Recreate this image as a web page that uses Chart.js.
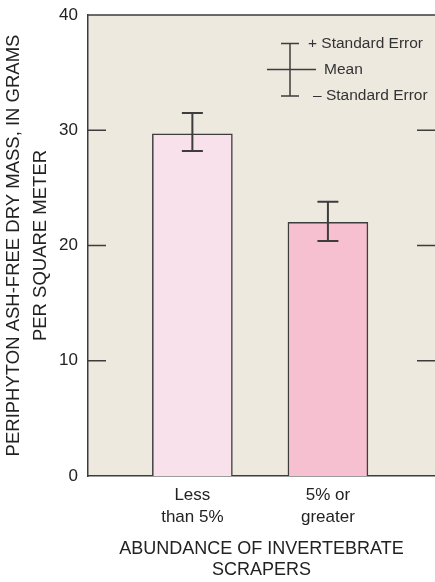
<!DOCTYPE html>
<html>
<head>
<meta charset="utf-8">
<script src="https://cdn.jsdelivr.net/npm/chart.js@4.4.0/dist/chart.umd.min.js"></script>
<style>
  html, body { margin: 0; padding: 0; background: #fff; }
  #wrap { width: 435px; height: 582px; }
</style>
</head>
<body>
<div id="wrap"><canvas id="scraperChart"></canvas></div>
<script>
// values (grams per square meter)
var categories = [["Less", "than 5%"], ["5% or", "greater"]];
var positions = [1, 2];
var meanMass = [29.7, 22.0];
var upperError = [31.5, 23.8];
var lowerError = [28.2, 20.4];
var innerTicks = [10, 20, 30];

var FONT = "'Liberation Sans', Arial, sans-serif";
var INK = "#3d3d3d";

var framePlugin = {
  id: "frame",
  beforeDraw: function (chart) {
    var c = chart.ctx, a = chart.chartArea;
    c.save();
    c.fillStyle = "#fff";
    c.fillRect(0, 0, chart.width, chart.height);
    c.fillStyle = "#eee9df";
    c.fillRect(a.left, a.top, a.right - a.left, a.bottom - a.top);
    c.restore();
  },
  afterDatasetsDraw: function (chart) {
    var c = chart.ctx, a = chart.chartArea;
    var xs = chart.scales.x, ys = chart.scales.y;
    c.save();
    c.strokeStyle = INK;
    c.lineWidth = 1.5;
    c.beginPath();
    c.moveTo(a.left, a.top);
    c.lineTo(a.right, a.top);
    // inside ticks on both sides
    innerTicks.forEach(function (v) {
      var y = ys.getPixelForValue(v);
      c.moveTo(a.left, y); c.lineTo(a.left + 18, y);
      c.moveTo(a.right - 18, y); c.lineTo(a.right, y);
    });
    c.stroke();

    // standard error bars
    c.lineWidth = 2;
    positions.forEach(function (p, i) {
      var x = xs.getPixelForValue(p);
      var yt = ys.getPixelForValue(upperError[i]);
      var yb = ys.getPixelForValue(lowerError[i]);
      c.beginPath();
      c.moveTo(x, yt); c.lineTo(x, yb);
      c.moveTo(x - 10.5, yt); c.lineTo(x + 10.5, yt);
      c.moveTo(x - 10.5, yb); c.lineTo(x + 10.5, yb);
      c.stroke();
    });

    // key
    c.lineWidth = 1.5;
    c.beginPath();
    c.moveTo(290, 43.5); c.lineTo(290, 96);
    c.moveTo(281, 43.5); c.lineTo(299, 43.5);
    c.moveTo(281, 96); c.lineTo(299, 96);
    c.moveTo(267, 69.5); c.lineTo(316, 69.5);
    c.stroke();
    c.fillStyle = "#333";
    c.font = "15.5px " + FONT;
    c.textBaseline = "middle";
    c.textAlign = "left";
    c.fillText("+ Standard Error", 308, 43.5);
    c.fillText("Mean", 324, 69.5);
    c.fillText("\u2013 Standard Error", 313, 96);
    c.restore();
  }
};

var chart = new Chart(document.getElementById("scraperChart"), {
  type: "bar",
  data: {
    datasets: [{
      data: positions.map(function (p, i) { return { x: p, y: meanMass[i] }; }),
      backgroundColor: ["#f9e1eb", "#f7c0d1"],
      borderColor: INK,
      borderWidth: 1.5,
      barThickness: 80
    }]
  },
  options: {
    responsive: true,
    maintainAspectRatio: false,
    animation: false,
    layout: { padding: { top: 15, right: 0, left: 0, bottom: 0 } },
    plugins: { legend: { display: false }, tooltip: { enabled: false } },
    scales: {
      x: {
        type: "linear",
        offset: false,
        min: 0.23,
        max: 2.79,
        grid: { display: false },
        border: { display: true, color: INK, width: 1.5 },
        afterBuildTicks: function (s) {
          s.ticks = positions.map(function (p) { return { value: p }; });
        },
        afterFit: function (s) { s.height = 106; },
        ticks: {
          autoSkip: false,
          maxRotation: 0,
          padding: 0,
          color: "#222",
          font: { family: FONT, size: 17, lineHeight: "22px" },
          callback: function (v) { return categories[positions.indexOf(v)]; }
        },
        title: {
          display: true,
          text: ["ABUNDANCE OF INVERTEBRATE", "SCRAPERS"],
          color: "#222",
          font: { family: FONT, size: 18, lineHeight: "21px" },
          padding: { top: 0, bottom: 1.5 }
        }
      },
      y: {
        min: 0,
        max: 40,
        grid: { display: false },
        border: { display: true, color: INK, width: 1.5 },
        afterFit: function (s) { s.width = 88; },
        ticks: {
          stepSize: 10,
          padding: 2,
          color: "#222",
          font: { family: FONT, size: 17 }
        },
        title: {
          display: true,
          text: ["PERIPHYTON ASH-FREE DRY MASS, IN GRAMS", "PER SQUARE METER"],
          color: "#222",
          font: { family: FONT, size: 18.5, lineHeight: "27px" },
          padding: { top: 0, bottom: 0 }
        }
      }
    }
  },
  plugins: [framePlugin]
});
</script>
</body>
</html>
